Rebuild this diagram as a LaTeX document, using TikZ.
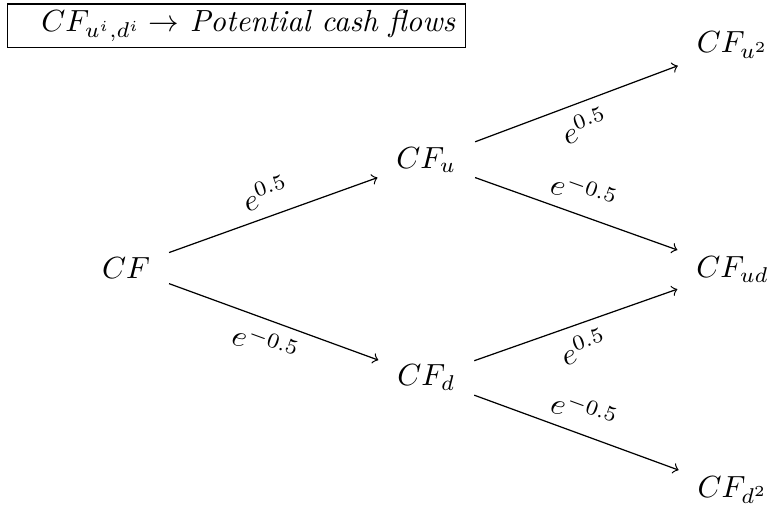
\documentclass[tikz,border=0pt]{standalone}
\tikzset{
  cashflow/.style={inner sep=6pt},
  branch/.style={->},
  rate/.style={sloped, midway}
}
\begin{document}
\begin{tikzpicture}
  \useasboundingbox (-1.45,-2.80) rectangle (7.40,3.08);
  % Legend
  \node[draw, anchor=north west, minimum height=0.5cm, inner ysep=1pt] (legend) at (-1.37,3.04)
    {\makebox[5.03cm][r]{$CF_{u^i,d^i} \rightarrow$ \textit{Potential cash flows}}};
  % Cash flow nodes
  \node[cashflow] (cf) at (0,0) {$CF$};
  \node[cashflow] (cfu) at (3.45,1.24) {$CF_u$};
  \node[cashflow] (cfd) at (3.45,-1.26) {$CF_d$};
  \node[cashflow] (cfuu) at (6.97,2.56) {$CF_{u^2}$};
  \node[cashflow] (cfud) at (6.97,-0.02) {$CF_{ud}$};
  \node[cashflow] (cfdd) at (6.97,-2.55) {$CF_{d^2}$};
  % First step
  \draw[branch] (cf) -- node[rate,above] {$e^{0.5}$} (cfu);
  \draw[branch] (cf) -- node[rate,below] {$e^{-0.5}$} (cfd);
  % Second step
  \draw[branch] (cfu) -- node[rate,below] {$e^{0.5}$} (cfuu);
  \draw[branch] (cfu) -- node[rate,above] {$e^{-0.5}$} (cfud);
  \draw[branch] (cfd) -- node[rate,below] {$e^{0.5}$} (cfud);
  \draw[branch] (cfd) -- node[rate,above] {$e^{-0.5}$} (cfdd);
\end{tikzpicture}
\end{document}
